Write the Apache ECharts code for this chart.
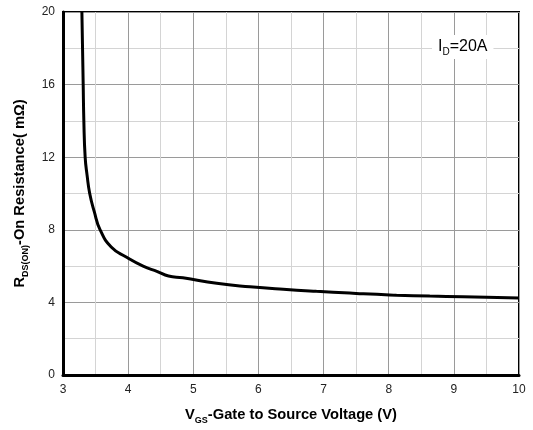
<!DOCTYPE html>
<html>
<head>
<meta charset="utf-8">
<script src="https://cdn.jsdelivr.net/npm/echarts@6/dist/echarts.min.js"></script>
<style>
  html, body { margin: 0; padding: 0; background: #fff; }
  #chart { width: 533px; height: 430px; }
</style>
</head>
<body>
<div id="chart"></div>
<script>
// Gate voltage (V) and on-resistance (mΩ) at ID = 20 A
const vgs = [3.29, 3.30, 3.31, 3.32, 3.34, 3.37, 3.41, 3.48, 3.57, 3.74, 3.97, 4.23, 4.45, 4.62, 4.84, 5.36, 5.87, 6.38, 6.89, 7.40, 7.61, 8.12, 8.63, 9.14, 9.50, 10.0];
const rdsOn = [20.0, 18.0, 16.0, 14.0, 12.0, 11.0, 10.0, 9.0, 8.0, 7.05, 6.5, 6.0, 5.7, 5.45, 5.36, 5.05, 4.86, 4.72, 4.61, 4.52, 4.47, 4.40, 4.35, 4.31, 4.28, 4.24];
const xTicks = [3, 4, 5, 6, 7, 8, 9, 10];
const yTicks = [0, 4, 8, 12, 16, 20];
const conditionLabel = 'I{s|D}=20A';

const font = 'Arial, "Liberation Sans", sans-serif';
const titleRich = {
  b: { fontFamily: font, fontSize: 14.7, fontWeight: 'bold', color: '#000', lineHeight: 20 },
  s: { fontFamily: font, fontSize: 9, fontWeight: 'bold', color: '#000', lineHeight: 20, verticalAlign: 'bottom', padding: [9, 0, 0, 0] }
};
const chart = echarts.init(document.getElementById('chart'));

chart.setOption({
  animation: false,
  grid: {
    left: 63, right: 14, top: 12, bottom: 55,
    outerBoundsMode: 'none',
    containLabel: false,
    show: true, borderColor: '#000', borderWidth: 2
  },
  xAxis: {
    type: 'value',
    min: xTicks[0], max: xTicks[xTicks.length - 1], interval: 1,
    axisLine: { show: true, onZero: false, lineStyle: { color: '#000', width: 3 } },
    axisTick: { show: false },
    axisLabel: { color: '#222', fontFamily: font, fontSize: 12, margin: 9 },
    splitLine: { show: true, lineStyle: { color: '#9a9a9a', width: 1 } },
    minorTick: { show: false, splitNumber: 2 },
    minorSplitLine: { show: true, lineStyle: { color: '#d4d4d4', width: 1 } },
    name: '{b|V}{s|GS}{b|-Gate to Source Voltage (V)}',
    nameLocation: 'middle', nameGap: 30,
    nameTextStyle: { fontFamily: font, rich: titleRich }
  },
  yAxis: {
    type: 'value',
    min: yTicks[0], max: yTicks[yTicks.length - 1], interval: 4,
    axisLine: { show: true, lineStyle: { color: '#000', width: 3 } },
    axisTick: { show: false },
    axisLabel: { color: '#222', fontFamily: font, fontSize: 12, margin: 8 },
    splitLine: { show: true, lineStyle: { color: '#9a9a9a', width: 1 } },
    minorTick: { show: false, splitNumber: 2 },
    minorSplitLine: { show: true, lineStyle: { color: '#d4d4d4', width: 1 } },
    name: '{b|R}{s|DS(ON)}{b|-On Resistance( m\u03A9)}',
    nameLocation: 'middle', nameGap: 33, nameRotate: 90,
    nameTextStyle: { fontFamily: font, rich: titleRich }
  },
  series: [{
    type: 'line',
    data: vgs.map((v, i) => [v, rdsOn[i]]),
    showSymbol: false,
    smooth: 0.5,
    clip: true,
    lineStyle: { color: '#000', width: 3 },
    z: 5
  }],
  graphic: [{
    type: 'text',
    left: 432, top: 35,
    z: 10,
    style: {
      text: conditionLabel,
      fill: '#000',
      backgroundColor: '#fff',
      padding: [2, 6, 2, 6],
      font: '16px ' + font,
      rich: {
        s: { fontFamily: font, fontSize: 10, fill: '#000', verticalAlign: 'bottom', padding: [10, 0, 0, 0] }
      }
    }
  }]
});
</script>
</body>
</html>
